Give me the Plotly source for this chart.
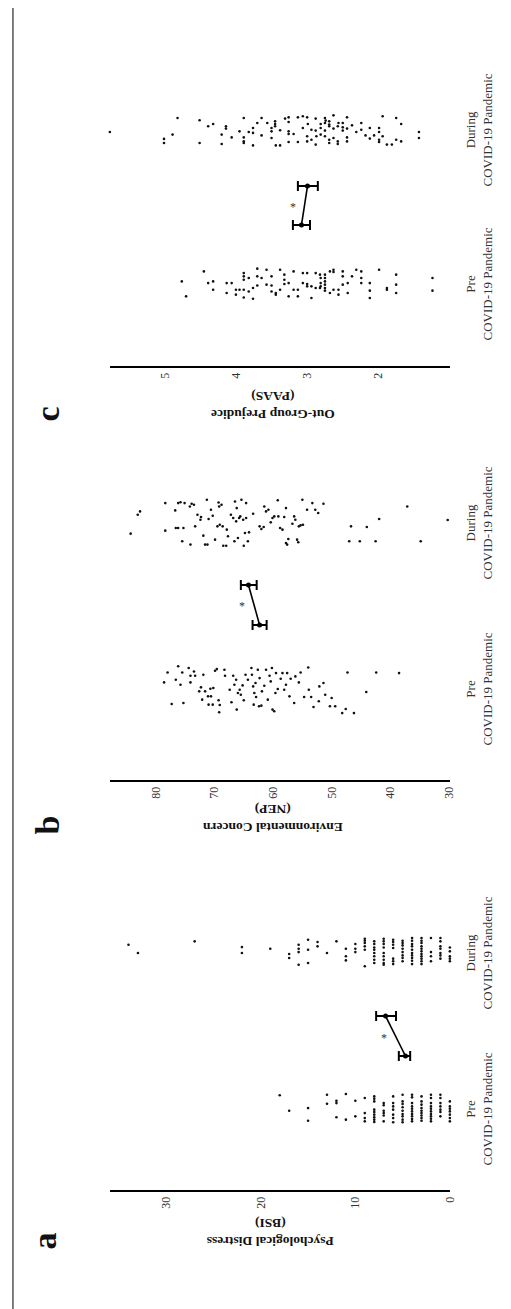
import plotly.graph_objects as go

# ---------------- data ----------------
categories = ["Pre<br>COVID-19 Pandemic", "During<br>COVID-19 Pandemic"]
panel_letters = ["a", "b", "c"]
axis_titles = ["Psychological Distress<br>(BSI)",
               "Environmental Concern<br>(NEP)",
               "Out-Group Prejudice<br>(PAAS)"]
a_ticks = [0, 10, 20, 30]
b_ticks = [30, 40, 50, 60, 70, 80]
c_ticks = [2, 3, 4, 5]

# Panel a (BSI)
a_pre_values = [18, 17, 15, 15, 13, 13, 12, 12, 12, 11, 11, 10, 10, 9, 9, 9, 9,
                8, 8, 8, 8, 8, 8, 8, 8, 8,
                7, 7, 7, 7, 7, 7,
                6, 6, 6, 6, 6, 6, 6,
                5, 5, 5, 5, 5, 5, 5, 5, 5,
                4, 4, 4, 4, 4, 4, 4, 4, 4, 4,
                3, 3, 3, 3, 3, 3, 3, 3, 3,
                2, 2, 2, 2, 2, 2, 2, 2, 2, 2,
                1, 1, 1, 1, 1, 1, 1,
                0, 0, 0, 0, 0, 0, 0]
a_pre_jitter = [0.088, -0.011, 0.006, -0.075, 0.092, 0.034, 0.053, 0.038, -0.053,
                0.096, -0.068, 0.053, -0.047, 0.071, -0.026, -0.058, -0.079,
                0.081, 0.066, 0.049, -0.004, -0.019, -0.036, -0.053, -0.068, -0.083,
                0.038, 0.024, -0.011, -0.026, -0.041, -0.079,
                0.081, 0.038, 0.017, -0.004, -0.036, -0.058, -0.085,
                0.092, 0.049, 0.032, 0.011, -0.011, -0.032, -0.047, -0.068, -0.085,
                0.092, 0.075, 0.038, 0.017, 0.002, -0.015, -0.032, -0.047, -0.064, -0.079,
                0.081, 0.049, 0.028, 0.006, -0.011, -0.026, -0.041, -0.058, -0.075,
                0.092, 0.071, 0.038, 0.017, 0.002, -0.015, -0.032, -0.047, -0.062, -0.079,
                0.092, 0.071, 0.038, 0.017, -0.004, -0.019, -0.047,
                0.049, 0.017, 0.002, -0.015, -0.036, -0.058, -0.079]
a_dur_values = [34, 33, 27, 22, 22, 19, 17, 17, 16, 16, 16, 16, 15, 15, 15, 14, 14,
                13, 12, 11, 11, 11, 10, 10, 10, 9, 9, 9, 9, 9, 9,
                8, 8, 8, 8, 8, 8, 8, 8,
                7, 7, 7, 7, 7, 7, 7, 7, 7,
                6, 6, 6, 6, 6, 6, 6,
                5, 5, 5, 5, 5, 5, 5, 5,
                4, 4, 4, 4, 4, 4, 4, 4, 4, 4,
                3, 3, 3, 3, 3, 3, 3, 3, 3, 3, 3,
                2, 2, 2, 2,
                1, 1, 1, 1, 1, 1, 1,
                0, 0, 0, 0, 0]
a_dur_jitter = [0.053, 0.0, 0.075, 0.038, 0.0, 0.028, -0.006, -0.032,
                0.053, 0.028, 0.006, -0.075, 0.085, 0.021, -0.064, 0.071, 0.043,
                0.0, 0.075, 0.028, -0.021, -0.047, 0.058, 0.028, 0.006,
                0.092, 0.079, 0.064, 0.043, 0.021, -0.085,
                0.075, 0.058, 0.036, 0.021, 0.0, -0.021, -0.043, -0.064,
                0.092, 0.075, 0.058, 0.036, 0.0, -0.021, -0.043, -0.064, -0.075,
                0.085, 0.071, 0.053, 0.032, -0.036, -0.053, -0.071,
                0.079, 0.064, 0.049, 0.028, 0.006, -0.015, -0.032, -0.053,
                0.096, 0.079, 0.058, 0.043, 0.021, 0.0, -0.015, -0.032, -0.049, -0.071,
                0.096, 0.079, 0.064, 0.043, 0.028, 0.011, -0.006, -0.021, -0.036, -0.053, -0.071,
                0.096, 0.006, -0.021, -0.053,
                0.096, 0.075, 0.043, 0.028, 0.0, -0.015, -0.036,
                0.036, 0.011, -0.021, -0.036, -0.053]
a_means = [4.7, 6.8]
a_ci_low = [4.2, 5.7]
a_ci_high = [5.4, 7.8]

# Panel b (NEP)
b_pre_values = [78.6, 78.0, 77.3, 76.6, 76.2, 75.8, 75.5, 75.3, 74.4, 74.1, 74.1, 73.5,
                73.3, 72.6, 72.3, 71.9, 72.1, 71.6, 71.1, 71.0, 70.7, 70.6, 70.3, 70.2,
                69.9, 69.6, 69.3, 69.1, 69.2, 68.3, 68.2, 67.4, 67.1, 66.8, 66.6, 66.3,
                66.2, 66.0, 65.7, 65.5, 65.2, 65.0, 64.7, 64.3, 63.7, 63.6, 63.4, 63.3,
                63.2, 63.0, 62.9, 62.6, 62.4, 62.3, 62.0, 61.9, 61.5, 61.2, 60.9, 60.6,
                60.4, 60.2, 60.1, 59.8, 59.6, 59.5, 59.2, 58.7, 58.4, 58.1, 57.8, 57.6,
                57.2, 57.0, 56.4, 56.2, 55.6, 55.3, 54.7, 54.0, 53.9, 53.5, 53.1, 52.2,
                52.1, 51.4, 51.1, 50.3, 50.0, 49.4, 48.2, 47.6, 47.3, 46.2, 44.1, 42.4, 38.5]
b_pre_jitter = [0.04, 0.1, -0.09, 0.056, 0.137, 0.026, 0.1, -0.084, 0.127, 0.04, 0.08, 0.106,
                0.08, -0.014, 0.01, 0.086, -0.064, -0.014, -0.044, -0.094, 0.002, -0.044, -0.094, 0.006,
                0.11, 0.12, -0.068, -0.096, -0.14, 0.116, 0.08, -0.004, -0.08, 0.08, 0.026, 0.056,
                -0.124, -0.024, -0.004, -0.034, 0.022, -0.068, 0.086, 0.056, 0.127, 0.086, 0.016, -0.094,
                -0.024, 0.036, -0.048, 0.116, -0.104, 0.066, -0.1, -0.014, 0.02, 0.116, -0.064, 0.08,
                0.046, 0.127, -0.124, -0.134, -0.024, 0.096, 0.0, 0.062, 0.096, -0.004, 0.026, 0.096,
                -0.044, 0.062, -0.084, 0.076, 0.04, 0.1, -0.048, 0.13, -0.004, -0.048, -0.108, -0.074,
                0.016, 0.036, -0.034, -0.104, -0.054, -0.104, -0.145, -0.12, 0.1, -0.145, -0.018, 0.1, 0.096]
b_dur_values = [84.3, 83.1, 82.7, 78.4, 78.4, 76.7, 76.6, 76.2, 76.2, 75.8, 75.5, 75.3,
                75.1, 74.2, 74.1, 73.9, 73.5, 73.3, 72.9, 72.4, 72.3, 71.9, 71.6, 71.2,
                71.3, 71.0, 70.6, 70.3, 69.9, 69.5, 69.3, 69.2, 69.1, 68.8, 68.6, 68.5,
                68.0, 67.9, 67.7, 67.2, 66.8, 66.6, 66.5, 66.3, 66.2, 66.0, 65.8, 65.6,
                65.4, 65.1, 65.0, 64.8, 64.6, 64.6, 64.3, 64.1, 63.4, 62.3, 62.0, 61.6,
                61.5, 61.2, 60.8, 60.4, 60.1, 59.8, 59.2, 59.1, 58.8, 58.4, 58.1, 57.8,
                57.8, 57.6, 57.4, 56.7, 56.4, 56.2, 55.9, 55.7, 55.6, 55.3, 55.0, 54.9,
                54.2, 53.3, 52.8, 52.3, 51.4,
                47.0, 46.7, 45.2, 44.0, 42.5, 41.9, 37.1, 34.8, 30.2]
b_dur_jitter = [-0.064, 0.05, 0.07, 0.12, -0.046, 0.076, -0.03, -0.03, 0.12, 0.125, -0.11, -0.03,
                0.12, 0.1, -0.13, 0.116, 0.11, -0.02, 0.05, 0.02, 0.036, -0.076, -0.13, -0.13,
                0.14, 0.024, 0.08, 0.044, -0.1, -0.02, 0.124, 0.1, -0.01, 0.11, -0.02, -0.137,
                -0.137, -0.04, -0.08, 0.05, 0.03, -0.11, 0.13, 0.01, 0.09, -0.09, 0.03, 0.04,
                0.14, 0.02, -0.137, -0.06, 0.12, 0.03, -0.11, -0.056, 0.056, -0.02, -0.036, -0.024,
                0.1, 0.07, 0.08, 0.004, 0.03, 0.04, 0.137, 0.04, -0.03, -0.04, 0.036, 0.09,
                -0.12, -0.13, -0.096, -0.004, 0.04, 0.02, -0.1, -0.116, -0.02, -0.014, 0.14, -0.01,
                0.08, 0.12, 0.08, 0.06, 0.116,
                -0.11, -0.02, -0.11, -0.024, -0.11, 0.024, 0.1, -0.11, 0.018]
b_means = [62.3, 64.2]
b_ci_low = [61.1, 62.8]
b_ci_high = [63.5, 65.5]

# Panel c (PAAS)
c_pre_values = [4.76, 4.70, 4.45, 4.39, 4.32, 4.32, 4.13, 4.13, 4.06, 4.00, 4.00, 3.95,
                3.89, 3.89, 3.89, 3.89, 3.89, 3.82, 3.82, 3.76, 3.76, 3.70, 3.70, 3.70,
                3.64, 3.57, 3.57, 3.50, 3.50, 3.50, 3.44, 3.44, 3.38, 3.38, 3.32, 3.32, 3.32,
                3.26, 3.26, 3.19, 3.19, 3.13, 3.13, 3.06, 3.06, 3.00, 3.00, 3.00, 2.94, 2.94,
                2.88, 2.88, 2.82, 2.82, 2.81, 2.81, 2.81, 2.75, 2.75, 2.75, 2.75, 2.75, 2.75,
                2.68, 2.68, 2.63, 2.63, 2.63, 2.56, 2.56, 2.50, 2.50, 2.50, 2.43, 2.43, 2.37,
                2.31, 2.24, 2.24, 2.24, 2.12, 2.12, 2.12, 1.99, 1.88, 1.88, 1.75, 1.75, 1.75,
                1.24, 1.24]
c_pre_jitter = [0.017, -0.08, 0.082, 0.006, 0.017, -0.037, 0.006, -0.058, 0.006, -0.037, -0.069, -0.037,
                0.071, 0.05, 0.028, -0.037, -0.087, 0.039, -0.048, -0.026, -0.095, 0.1, 0.05, -0.009,
                0.039, 0.093, -0.004, 0.05, -0.009, -0.048, -0.058, -0.069, 0.093, -0.037, 0.061, 0.028, 0.0,
                0.006, -0.08, 0.082, -0.037, -0.037, -0.08, 0.071, 0.006, 0.071, 0.0, -0.015, -0.015, -0.091,
                0.071, -0.026, 0.061, -0.026, 0.039, 0.006, -0.015, 0.061, 0.039, 0.017, -0.004, -0.026, -0.043,
                0.082, -0.058, 0.093, 0.078, -0.037, -0.037, -0.069, 0.082, 0.05, -0.004, 0.006, -0.058, 0.05,
                0.093, 0.082, 0.039, 0.006, 0.006, -0.043, -0.091, 0.093, -0.026, -0.037, 0.061, -0.004, -0.058,
                0.039, -0.043]
c_dur_values = [5.77, 5.01, 5.01, 4.89, 4.82, 4.51, 4.51, 4.39, 4.32, 4.20, 4.20, 4.14, 4.14,
                4.06, 3.95, 3.89, 3.89, 3.89, 3.89, 3.82, 3.76, 3.76, 3.76, 3.70, 3.64, 3.64,
                3.56, 3.50, 3.50, 3.50, 3.45, 3.45, 3.45, 3.44, 3.38, 3.38, 3.31,
                3.26, 3.26, 3.26, 3.26, 3.26, 3.19, 3.13, 3.13, 3.06, 3.06, 3.00, 3.00, 3.00,
                2.99, 2.94, 2.94, 2.88, 2.88, 2.88, 2.87, 2.81, 2.81, 2.81, 2.75, 2.75, 2.75, 2.75,
                2.74, 2.69, 2.69, 2.69, 2.69, 2.69, 2.63, 2.63, 2.63, 2.57, 2.57, 2.57, 2.56,
                2.50, 2.50, 2.50, 2.44, 2.44, 2.44, 2.44, 2.37, 2.31, 2.24, 2.24, 2.18, 2.12, 2.12,
                2.06, 1.99, 1.99, 1.99, 1.99, 1.94, 1.94, 1.88, 1.81, 1.75, 1.75, 1.68, 1.68,
                1.43, 1.43]
c_dur_jitter = [-0.013, -0.058, -0.084, -0.03, 0.078, 0.063, -0.084, 0.024, 0.039, -0.03, -0.091, 0.024, 0.009,
                -0.048, -0.009, 0.078, -0.048, -0.074, -0.084, -0.013, 0.013, -0.019, -0.1, 0.045, 0.078, -0.035,
                0.045, 0.013, -0.009, -0.052, 0.056, 0.039, 0.024, -0.1, -0.002, -0.1, 0.074,
                0.082, 0.052, -0.009, -0.026, -0.078, -0.026, 0.082, -0.078, 0.089, 0.013, 0.082, -0.041, -0.074,
                0.039, 0.002, -0.063, 0.074, -0.004, -0.095, -0.041, 0.039, 0.013, -0.03, 0.078, 0.045, -0.004, -0.041,
                0.061, 0.056, 0.035, 0.024, -0.063, -0.084, 0.095, 0.009, -0.052, 0.024, -0.074, -0.091, 0.045,
                0.045, 0.017, -0.004, 0.082, 0.009, -0.048, -0.074, 0.03, -0.013, 0.045, 0.002, -0.035, 0.013, -0.056,
                -0.035, 0.013, -0.013, -0.063, -0.078, 0.089, -0.041, -0.095, -0.095, 0.078, -0.063, 0.039, -0.074,
                -0.013, -0.052]
c_means = [3.08, 2.995]
c_ci_low = [2.96, 2.85]
c_ci_high = [3.20, 3.13]

# ---------------- layout (positions / styles) ----------------
W, H = 511, 1309
SERIF = "Liberation Serif"
X_DOM = [103 / W, 448 / W]

panels = [
    dict(pre_v=a_pre_values, pre_j=a_pre_jitter, dur_v=a_dur_values, dur_j=a_dur_jitter,
         means=a_means, lo=a_ci_low, hi=a_ci_high, ticks=a_ticks,
         xrange=[36.0, 0.0], yrange=[-0.519, 1.417], ydom=[1 - 1182 / H, 1 - 880 / H],
         mean_y=[0.34, 0.596], star=(7.0, 0.455),
         title_xy=(266 / W, 1 - 1225 / H), letter_xy=(36 / W, 1 - 1233 / H)),
    dict(pre_v=b_pre_values, pre_j=b_pre_jitter, dur_v=b_dur_values, dur_j=b_dur_jitter,
         means=b_means, lo=b_ci_low, hi=b_ci_high, ticks=b_ticks,
         xrange=[87.9, 29.83], yrange=[-0.548, 1.452], ydom=[1 - 772 / H, 1 - 440 / H],
         mean_y=[0.386, 0.627], star=(65.3, 0.5),
         title_xy=(268 / W, 1 - 810 / H), letter_xy=(40 / W, 1 - 817 / H)),
    dict(pre_v=c_pre_values, pre_j=c_pre_jitter, dur_v=c_dur_values, dur_j=c_dur_jitter,
         means=c_means, lo=c_ci_low, hi=c_ci_high, ticks=c_ticks,
         xrange=[5.774, 0.996], yrange=[-0.532, 1.662], ydom=[1 - 358 / H, 1 - 20 / H],
         mean_y=[0.383, 0.636], star=(3.2, 0.5),
         title_xy=(268 / W, 1 - 398 / H), letter_xy=(40 / W, 1 - 406 / H)),
]

fig = go.Figure()
annotations = []
layout = dict(
    width=W, height=H, margin=dict(l=0, r=0, t=0, b=0),
    paper_bgcolor="white", plot_bgcolor="white", showlegend=False,
    font=dict(family=SERIF, color="#222"),
)

for i, p in enumerate(panels):
    n = "" if i == 0 else str(i + 1)
    xa, ya = "x" + n, "y" + n
    pts = dict(mode="markers", marker=dict(color="#111", size=2.6, symbol="circle"),
               xaxis=xa, yaxis=ya, hoverinfo="skip", cliponaxis=False)
    fig.add_trace(go.Scatter(x=p["pre_v"], y=[0 + j for j in p["pre_j"]], **pts))
    fig.add_trace(go.Scatter(x=p["dur_v"], y=[1 + j for j in p["dur_j"]], **pts))
    fig.add_trace(go.Scatter(
        x=p["means"], y=p["mean_y"], mode="lines+markers", xaxis=xa, yaxis=ya,
        line=dict(color="black", width=1.6), marker=dict(color="black", size=5),
        error_x=dict(type="data", symmetric=False,
                     array=[h - m for h, m in zip(p["hi"], p["means"])],
                     arrayminus=[m - l for m, l in zip(p["means"], p["lo"])],
                     color="black", thickness=2, width=5),
        hoverinfo="skip", cliponaxis=False))

    layout["xaxis" + n] = dict(
        domain=X_DOM, range=p["xrange"], anchor=ya, showgrid=False, zeroline=False,
        showline=True, linecolor="black", linewidth=2, ticks="",
        tickvals=p["ticks"], ticktext=[str(t) for t in p["ticks"]], tickangle=-90,
        tickfont=dict(family=SERIF, size=12, color="#333"))
    layout["yaxis" + n] = dict(
        domain=p["ydom"], range=p["yrange"], anchor=xa, showgrid=False, zeroline=False,
        showline=False, showticklabels=False, ticks="")

    for k, cat in enumerate(categories):
        annotations.append(dict(
            text=cat, x=478 / W, xref="paper", y=k, yref=ya, showarrow=False,
            textangle=-90, xanchor="center", yanchor="middle", align="center",
            font=dict(family=SERIF, size=13, color="#333")))
    annotations.append(dict(
        text="*", x=p["star"][0], xref=xa, y=p["star"][1], yref=ya, showarrow=False,
        xanchor="center", yanchor="middle", font=dict(family=SERIF, size=12, color="#333")))
    annotations.append(dict(
        text="<b>" + axis_titles[i] + "</b>", x=p["title_xy"][0], y=p["title_xy"][1],
        xref="paper", yref="paper", showarrow=False, textangle=180,
        xanchor="center", yanchor="middle", align="center",
        font=dict(family=SERIF, size=13.5, color="#111")))
    annotations.append(dict(
        text="<b>" + panel_letters[i] + "</b>", x=p["letter_xy"][0], y=p["letter_xy"][1],
        xref="paper", yref="paper", showarrow=False, textangle=-90,
        xanchor="center", yanchor="middle",
        font=dict(family=SERIF, size=34, color="#111")))

layout["annotations"] = annotations
layout["shapes"] = [
    dict(type="line", xref="paper", yref="paper", x0=5 / W, x1=5 / W, y0=1, y1=1 - 1305 / H,
         line=dict(color="#555", width=1.5)),
    dict(type="line", xref="paper", yref="paper", x0=5 / W, x1=1, y0=1 - 1305 / H, y1=1 - 1305 / H,
         line=dict(color="#666", width=2.5)),
]
fig.update_layout(**layout)
fig.write_html("out.html")
